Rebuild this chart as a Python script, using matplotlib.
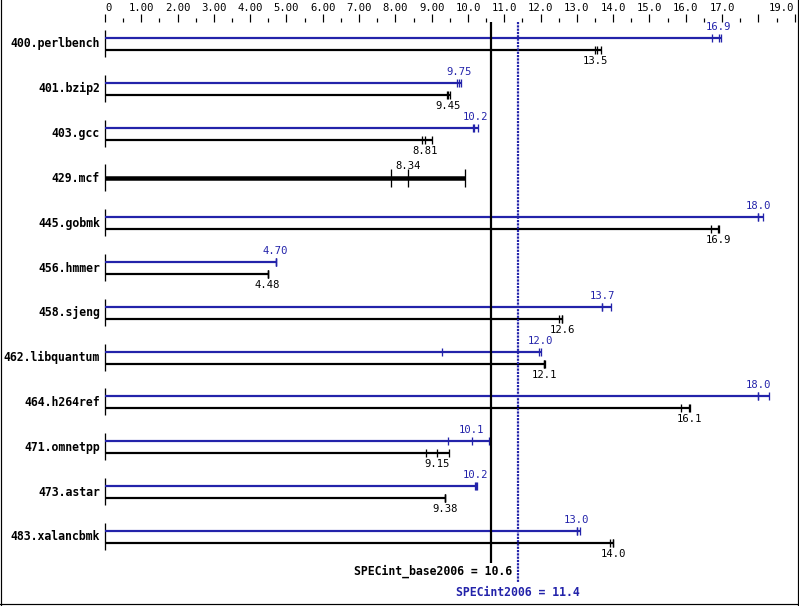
import matplotlib
matplotlib.use("Agg")
import matplotlib.pyplot as plt
import numpy as np

benchmarks = ["400.perlbench", "401.bzip2", "403.gcc", "429.mcf", "445.gobmk",
              "456.hmmer", "458.sjeng", "462.libquantum", "464.h264ref",
              "471.omnetpp", "473.astar", "483.xalancbmk"]
base_median = [13.5, 9.45, 8.81, 8.34, 16.9, 4.48, 12.6, 12.1, 16.1, 9.15, 9.38, 14.0]
peak_median = [16.9, 9.75, 10.2, None, 18.0, 4.70, 13.7, 12.0, 18.0, 10.1, 10.2, 13.0]
base_runs = [
    [13.49, 13.54, 13.66], [9.43, 9.45, 9.50], [8.72, 8.81, 9.00], [7.89, 8.34, 9.92],
    [16.69, 16.90, 16.91], [4.48, 4.48, 4.48], [12.50, 12.59, 12.60], [12.10, 12.10, 12.12],
    [15.88, 16.10, 16.12], [8.83, 9.15, 9.49], [9.38, 9.38, 9.38], [13.91, 14.00, 14.00],
]
peak_runs = [
    [16.71, 16.92, 16.98], [9.71, 9.75, 9.80], [10.13, 10.17, 10.28], None,
    [18.00, 18.00, 18.13], [4.70, 4.70, 4.70], [13.68, 13.70, 13.93], [9.27, 11.96, 12.01],
    [18.00, 18.00, 18.29], [9.46, 10.10, 10.57], [10.20, 10.21, 10.26], [13.00, 13.00, 13.09],
]
tick_values = list(range(0, 20))
tick_labels = ["0", "1.00", "2.00", "3.00", "4.00", "5.00", "6.00", "7.00", "8.00", "9.00",
               "10.0", "11.0", "12.0", "13.0", "14.0", "15.0", "16.0", "17.0", "", "19.0"]

BLUE = "#2323aa"
MONO = "DejaVu Sans Mono"
PX = 0.72  # points per pixel at dpi 100

def fmt(v):
    return f"{v:.1f}" if v >= 10 else f"{v:.2f}"

W, H = 799, 606
fig = plt.figure(figsize=(W / 100, H / 100), dpi=100)
ax = fig.add_axes([0, 0, 1, 1])
ax.axis("off")
ppu = 36.3
x0 = 105
ax.set_xlim(-x0 / ppu, (W - x0) / ppu)
ax.set_ylim(H, 0)

# top scale
for v, lab in zip(tick_values, tick_labels):
    ax.plot([v, v], [14, 22], color="black", lw=1.2 * PX, solid_capstyle="butt")
    if v < 19:
        ax.plot([v + 0.5, v + 0.5], [18, 22], color="black", lw=1.2 * PX, solid_capstyle="butt")
    if lab:
        ha = "right" if v == 19 else "center"
        xx = v + 0.1 if v == 0 else v
        ax.text(xx, 8, lab, ha=ha, va="center", fontsize=7.6, family=MONO, color="black")

centers = [44 + 44.8 * i for i in range(len(benchmarks))]

for i, name in enumerate(benchmarks):
    c = centers[i]
    ax.text(-5 / ppu, c, name, ha="right", va="center", fontsize=8.3, family=MONO,
            fontweight="bold", color="black")
    ax.plot([0, 0], [c - 14, c + 13], color="black", lw=1.3 * PX, solid_capstyle="butt")
    if peak_runs[i] is None:
        runs = base_runs[i]
        ax.plot([0, max(runs)], [c, c], color="black", lw=4.5 * PX, solid_capstyle="butt")
        for r in runs:
            ax.plot([r, r], [c - 9, c + 9], color="black", lw=1.3 * PX, solid_capstyle="butt")
        ax.text(base_median[i], c - 12, fmt(base_median[i]), ha="center", va="center",
                fontsize=7.6, family=MONO, color="black")
        continue
    yb = c - 6
    runs = peak_runs[i]
    ax.plot([0, max(runs)], [yb, yb], color=BLUE, lw=2.2 * PX, solid_capstyle="butt")
    for r in runs:
        ax.plot([r, r], [yb - 4, yb + 4], color=BLUE, lw=1.3 * PX, solid_capstyle="butt")
    ax.text(peak_median[i], yb - 11, fmt(peak_median[i]), ha="center", va="center",
            fontsize=7.6, family=MONO, color=BLUE)
    yk = c + 6
    runs = base_runs[i]
    ax.plot([0, max(runs)], [yk, yk], color="black", lw=2.2 * PX, solid_capstyle="butt")
    for r in runs:
        ax.plot([r, r], [yk - 4, yk + 4], color="black", lw=1.3 * PX, solid_capstyle="butt")
    ax.text(base_median[i], yk + 11, fmt(base_median[i]), ha="center", va="center",
            fontsize=7.6, family=MONO, color="black")

geo_base = float(np.exp(np.mean(np.log(base_median))))
peak_all = [p if p is not None else b for p, b in zip(peak_median, base_median)]
geo_peak = float(np.exp(np.mean(np.log(peak_all))))

ax.plot([geo_base, geo_base], [22, 563], color="black", lw=2.2 * PX, solid_capstyle="butt")
ax.plot([geo_peak, geo_peak], [22, 583], color=BLUE, lw=2.2 * PX,
        linestyle=(0, (1, 0.5)), solid_capstyle="butt", dash_capstyle="butt")
ax.text(geo_base + 0.58, 571, f"SPECint_base2006 = {geo_base:.1f}", ha="right", va="center",
        fontsize=8.3, family=MONO, fontweight="bold", color="black")
ax.text(geo_peak, 592, f"SPECint2006 = {geo_peak:.1f}", ha="center", va="center",
        fontsize=8.3, family=MONO, fontweight="bold", color=BLUE)

# frame
fig.add_artist(plt.Line2D([0.6 / W, 0.6 / W], [0, 1], color="black", lw=1.2 * PX,
                          transform=fig.transFigure))
fig.add_artist(plt.Line2D([(W - 1.5) / W, (W - 1.5) / W], [0, 1], color="black", lw=1.2 * PX,
                          transform=fig.transFigure))
fig.add_artist(plt.Line2D([0, 1], [2 / H, 2 / H], color="black", lw=1.2 * PX,
                          transform=fig.transFigure))

fig.savefig("out.png", dpi=100, facecolor="white")
